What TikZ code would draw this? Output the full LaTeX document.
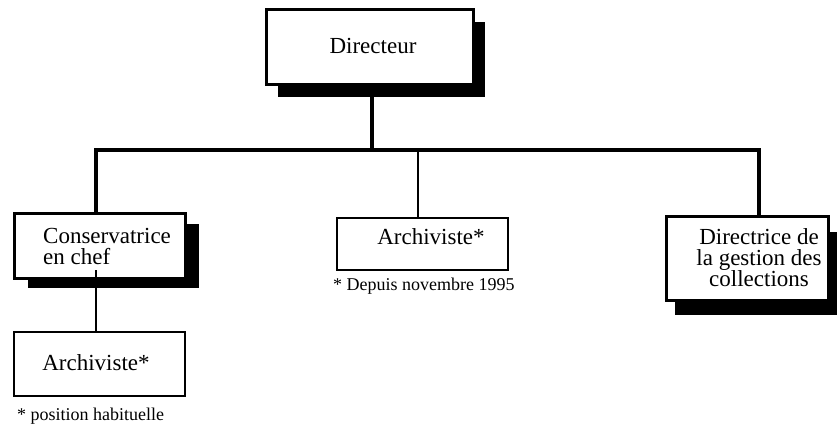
\documentclass[tikz,border=0pt]{standalone}
\usepackage{fontspec}
\setmainfont{Liberation Serif}
\usetikzlibrary{shadows}
\begin{document}
\begin{tikzpicture}[x=1pt,y=-1pt,
  bigbox/.style={draw, line width=3pt, fill=white, inner sep=0pt},
  thinbox/.style={draw, line width=1.6pt, fill=white, inner sep=0pt},
  hardshadow/.style 2 args={general shadow={fill=black, shadow xshift=#1, shadow yshift=-#2}},
  bus/.style={line width=3.2pt},
  conn/.style={line width=2pt},
  boxtext/.style={font=\fontsize{23}{21}\selectfont, inner sep=0pt},
  notetext/.style={font=\fontsize{18}{20}\selectfont, inner sep=0pt}]
\useasboundingbox (0,0) rectangle (837,430);

% boxes
\node[bigbox, hardshadow={12pt}{12pt}, minimum width=207pt, minimum height=75pt] (dir) at (369.5,47.5) {};
\node[bigbox, hardshadow={14pt}{10pt}, minimum width=171pt, minimum height=64pt] (cons) at (99.5,246) {};
\node[bigbox, hardshadow={9pt}{15pt}, minimum width=162pt, minimum height=83pt] (dtr) at (747,258.5) {};
\node[thinbox, minimum width=171pt, minimum height=52pt] (arch) at (422.5,244) {};
\node[thinbox, minimum width=171pt, minimum height=64pt] (arch2) at (99.5,364) {};

% texts
\node[boxtext, anchor=base] (tdir) at (373,54) {Directeur};
\node[boxtext, anchor=north west, align=left] (tcons) at (43,228) {Conservatrice\\en chef};
\node[boxtext, anchor=north, align=center] (tdtr) at (759,228) {Directrice de\\la gestion des\\collections};
\node[boxtext, anchor=base] (tarch) at (431,244) {Archiviste*};
\node[boxtext, anchor=base] (tarch2) at (96,370) {Archiviste*};
\node[notetext, anchor=base west] (n1) at (333,290) {* Depuis novembre 1995};
\node[notetext, anchor=base west] (n2) at (17,420) {* position habituelle};

% connectors
\coordinate (bus) at (372,150);
\draw[bus] ([xshift=2.5pt]dir.south) -- ([xshift=2.5pt]dir.south |- bus);
\draw[bus] ([xshift=-3.5pt]cons.north) |- (bus) -| ([xshift=12pt]dtr.north);
\draw[conn] ([xshift=-4.5pt]arch.north) -- ([xshift=-4.5pt]arch.north |- bus);
\draw[conn] ([xshift=-3.5pt]arch2.north) -- ([xshift=-3.5pt, yshift=10pt]cons.south);
\end{tikzpicture}
\end{document}
